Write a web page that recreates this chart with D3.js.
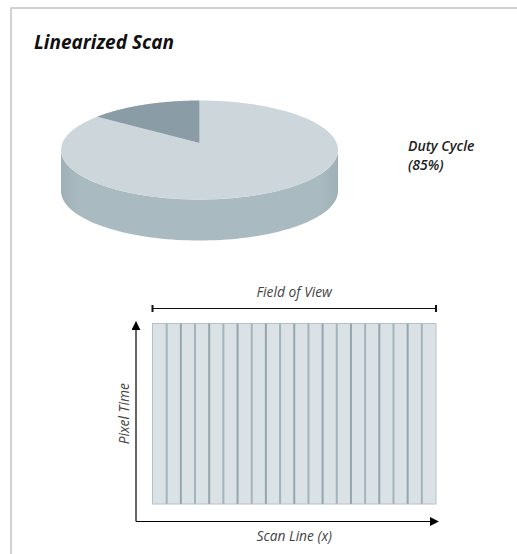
<!DOCTYPE html>
<head>
<meta charset="utf-8">
<title>Linearized Scan</title>
<script src="https://d3js.org/d3.v7.min.js"></script>
<style>
body {
  margin: 0;
  background: #fff;
  overflow: hidden;
  font-family: "Open Sans", "Noto Sans", sans-serif;
}
svg {
  display: block;
}
svg text {
  font-style: italic;
}
.title {
  font-size: 19px;
  font-weight: 700;
  fill: #111;
}
.callout {
  font-size: 14px;
  font-weight: 600;
  fill: #222;
}
.axis-label {
  font-size: 13.8px;
  fill: #444;
}
</style>
</head>
<body>
<script>

// pie data
const pieLabels = ["Duty Cycle", "Retrace"];
const pieValues = [85, 15];
const pieColors = ["#cdd6db", "#8a9ca6"];
const sideColors = ["#a9bac0", "#7c8e97"];

// scan lines across the field of view
const scanLines = [1, 2, 3, 4, 5, 6, 7, 8, 9, 10, 11, 12, 13, 14, 15, 16, 17, 18, 19, 20];

const width = 517,
  height = 554;

const svg = d3.select('body').append('svg')
  .attr('width', width)
  .attr('height', height);

// frame
svg.append('path')
  .attr('d', 'M' + 11 + ',' + height + 'V8H' + width)
  .attr('fill', 'none')
  .attr('stroke', '#c4c4c4')
  .attr('stroke-width', 1.5);

svg.append('text')
  .attr('class', 'title')
  .attr('x', 34)
  .attr('y', 49)
  .text('Linearized Scan');

// ---- 3D pie (with a little perspective) ----
const cx = 199.5, cy = 150, rx = 138.5, ry = 49.5, depth = 41,
  persp = 0.14;   // how far the centre sits toward the back

const pie = d3.pie().sort(null).value(d => d);
const slices = pie(pieValues);

// pie angle (0 = far side, clockwise) -> angle on the drawn ellipse
function warp(a) {
  const den = 1 + persp * Math.cos(a);
  const u = Math.sin(a) * Math.sqrt(1 - persp * persp) / den,
    v = (Math.cos(a) + persp) / den;
  return Math.atan2(u, v);
}
// point on the ellipse for an ellipse angle
function pt(t, dy) {
  return [cx + rx * Math.sin(t), cy - ry * Math.cos(t) + (dy || 0)];
}
function unwrap(t, ref) {
  while (t < ref - 1e-9) t += 2 * Math.PI;
  return t;
}

const defs = svg.append('defs');
const grad = defs.append('linearGradient')
  .attr('id', 'sideGrad')
  .attr('x1', '0').attr('x2', '1').attr('y1', '0').attr('y2', '0');
grad.append('stop').attr('offset', '0').attr('stop-color', '#9fb0b7');
grad.append('stop').attr('offset', '0.07').attr('stop-color', sideColors[0]);
grad.append('stop').attr('offset', '0.93').attr('stop-color', sideColors[0]);
grad.append('stop').attr('offset', '1').attr('stop-color', '#9fb0b7');

const g = svg.append('g');
const poly = d3.line();

// slice extents on the ellipse
const shapes = slices.map(s => {
  const t0 = unwrap(warp(s.startAngle), 0);
  const t1 = unwrap(warp(s.endAngle), t0 + 1e-6);
  return {t0: t0, t1: t1};
});

// side walls: only the front half (ellipse angles PI/2 .. 3PI/2) is visible
shapes.forEach((s, i) => {
  const a0 = Math.max(s.t0, Math.PI / 2),
    a1 = Math.min(s.t1, 3 * Math.PI / 2);
  if (a1 <= a0) return;
  const steps = d3.range(0, 81).map(k => a0 + (a1 - a0) * k / 80);
  const topEdge = steps.map(t => pt(t));
  const botEdge = steps.slice().reverse().map(t => pt(t, depth));
  g.append('path')
    .attr('d', poly(topEdge.concat(botEdge)) + 'Z')
    .attr('fill', i === 0 ? 'url(#sideGrad)' : sideColors[i]);
});

// top face
const hub = [cx, cy - ry * persp];
g.selectAll('path.top')
  .data(shapes)
  .join('path')
  .attr('class', 'top')
  .attr('d', s => {
    const steps = d3.range(0, 121).map(k => s.t0 + (s.t1 - s.t0) * k / 120);
    return poly([hub].concat(steps.map(t => pt(t)))) + 'Z';
  })
  .attr('fill', (d, i) => pieColors[i]);

const callout = svg.append('text')
  .attr('class', 'callout')
  .attr('x', 408)
  .attr('y', 151);
callout.append('tspan').text(pieLabels[0]);
callout.append('tspan')
  .attr('x', 408)
  .attr('dy', 19)
  .text('(' + pieValues[0] + '%)');

// ---- scan diagram ----
const x = d3.scaleBand()
  .domain(scanLines)
  .range([152.5, 436])
  .padding(0);

const y = d3.scaleLinear()
  .domain([0, 1])
  .range([504, 323.5]);

// arrow markers
defs.append('marker')
  .attr('id', 'arrow')
  .attr('viewBox', '0 0 10 10')
  .attr('refX', 9).attr('refY', 5)
  .attr('markerWidth', 9).attr('markerHeight', 9)
  .attr('markerUnits', 'userSpaceOnUse')
  .attr('orient', 'auto')
  .append('path')
  .attr('d', 'M0,0L10,5L0,10Z')
  .attr('fill', '#000');

// strips
const strips = svg.append('g');
strips.append('rect')
  .attr('x', x.range()[0])
  .attr('y', y(1))
  .attr('width', x.range()[1] - x.range()[0])
  .attr('height', y(0) - y(1))
  .attr('fill', '#dbe2e6')
  .attr('stroke', '#b4c2c8')
  .attr('stroke-width', 1);

strips.selectAll('line')
  .data(scanLines.slice(1))
  .join('line')
  .attr('x1', d => x(d))
  .attr('x2', d => x(d))
  .attr('y1', y(1))
  .attr('y2', y(0))
  .attr('stroke', (d, i) => i % 2 ? '#93a6ae' : '#a3b4bb')
  .attr('stroke-width', 2);

// field of view bracket
const fovY = 308.5;
const fov = svg.append('g').attr('stroke', '#111');
fov.append('line')
  .attr('x1', x.range()[0]).attr('x2', x.range()[1])
  .attr('y1', fovY).attr('y2', fovY)
  .attr('stroke-width', 1.2);
[x.range()[0], x.range()[1]].forEach(px => {
  fov.append('line')
    .attr('x1', px).attr('x2', px)
    .attr('y1', fovY - 3.5).attr('y2', fovY + 3.5)
    .attr('stroke-width', 2);
});

svg.append('text')
  .attr('class', 'axis-label')
  .attr('x', (x.range()[0] + x.range()[1]) / 2)
  .attr('y', 297)
  .attr('text-anchor', 'middle')
  .text('Field of View');

// axes arrows
const axisX = 136, axisY = 521.5;
svg.append('line')
  .attr('x1', axisX).attr('y1', axisY)
  .attr('x2', axisX).attr('y2', 322)
  .attr('stroke', '#000').attr('stroke-width', 1.2)
  .attr('marker-end', 'url(#arrow)');

svg.append('line')
  .attr('x1', axisX).attr('y1', axisY)
  .attr('x2', 438).attr('y2', axisY)
  .attr('stroke', '#000').attr('stroke-width', 1.2)
  .attr('marker-end', 'url(#arrow)');

svg.append('text')
  .attr('class', 'axis-label')
  .attr('x', (x.range()[0] + x.range()[1]) / 2)
  .attr('y', 541)
  .attr('text-anchor', 'middle')
  .text('Scan Line (x)');

svg.append('text')
  .attr('class', 'axis-label')
  .attr('transform', 'translate(129,' + ((y(0) + y(1)) / 2) + ') rotate(-90)')
  .attr('text-anchor', 'middle')
  .text('Pixel Time');

</script>
</body>
